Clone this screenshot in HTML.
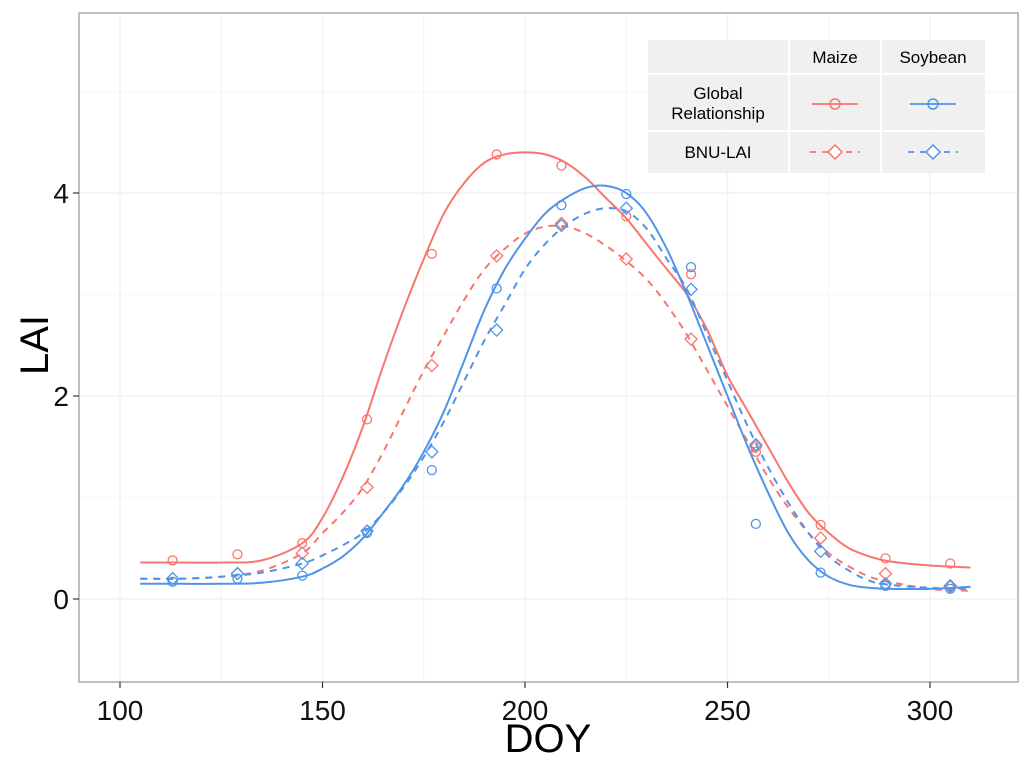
<!DOCTYPE html>
<html><head><meta charset="utf-8"><style>
html,body{margin:0;padding:0;background:#fff;}
svg{display:block;font-family:"Liberation Sans",sans-serif;}
</style></head><body>
<svg id="chart" width="1024" height="764">
<rect x="0" y="0" width="1024" height="764" fill="#fff"/>
<g id="grid"></g>
<g id="series"></g>
<rect x="79" y="13" width="939" height="669" fill="none" stroke="#aaa" stroke-width="1.5"/>
<g id="axes"></g>
<text x="548" y="752" font-size="40" text-anchor="middle" fill="#000">DOY</text>
<text transform="translate(48,345) rotate(-90)" font-size="40" text-anchor="middle" fill="#000">LAI</text>
<g id="legend">
<rect x="648" y="40" width="140" height="33" fill="#f0f0f0"/>
<rect x="790" y="40" width="90" height="33" fill="#f0f0f0"/>
<rect x="882" y="40" width="103" height="33" fill="#f0f0f0"/>
<rect x="648" y="75" width="140" height="55" fill="#f0f0f0"/>
<rect x="790" y="75" width="90" height="55" fill="#f0f0f0"/>
<rect x="882" y="75" width="103" height="55" fill="#f0f0f0"/>
<rect x="648" y="132" width="140" height="41" fill="#f0f0f0"/>
<rect x="790" y="132" width="90" height="41" fill="#f0f0f0"/>
<rect x="882" y="132" width="103" height="41" fill="#f0f0f0"/>
<text x="835" y="63" font-size="17" text-anchor="middle">Maize</text>
<text x="933" y="63" font-size="17" text-anchor="middle">Soybean</text>
<text x="718" y="99" font-size="17" text-anchor="middle">Global</text>
<text x="718" y="119" font-size="17" text-anchor="middle">Relationship</text>
<text x="718" y="158" font-size="17" text-anchor="middle">BNU-LAI</text>
<g><line x1="812" y1="104" x2="858" y2="104" stroke="#F8766D" stroke-width="1.8"/><circle cx="835" cy="104" r="5" fill="none" stroke="#F8766D" stroke-width="1.5"/></g>
<g><line x1="910" y1="104" x2="956" y2="104" stroke="#4F94E8" stroke-width="1.8"/><circle cx="933" cy="104" r="5" fill="none" stroke="#4F94E8" stroke-width="1.5"/></g>
<g><line x1="810" y1="152" x2="860" y2="152" stroke="#F8766D" stroke-width="1.8" stroke-dasharray="6,6"/><path d="M835 145 L842 152 L835 159 L828 152 Z" fill="#fff" stroke="#F8766D" stroke-width="1.5"/></g>
<g><line x1="908" y1="152" x2="958" y2="152" stroke="#4F94E8" stroke-width="1.8" stroke-dasharray="6,6"/><path d="M933 145 L940 152 L933 159 L926 152 Z" fill="#fff" stroke="#4F94E8" stroke-width="1.5"/></g>
</g>
</svg>
<script>
const xTicks=[100,150,200,250,300];
const yTicks=[0,2,4];
const obsDoy=[113,129,145,161,177,193,209,225,241,257,273,289,305];
const maizeGlobalObs=[0.38,0.44,0.55,1.77,3.4,4.38,4.27,3.77,3.2,1.45,0.73,0.4,0.35];
const maizeBnuObs=[0.2,0.25,0.45,1.1,2.3,3.38,3.7,3.35,2.56,1.5,0.6,0.25,0.12];
const soyGlobalObs=[0.17,0.2,0.23,0.65,1.27,3.06,3.88,3.99,3.27,0.74,0.26,0.13,0.1];
const soyBnuObs=[0.2,0.25,0.35,0.67,1.45,2.65,3.68,3.85,3.05,1.52,0.47,0.15,0.13];
const curveDoy=[105,115,125,135,145,150,155,160,165,170,175,180,185,190,195,200,205,210,215,220,225,230,235,240,245,250,255,260,265,270,275,280,285,290,300,310];
const maizeGlobalFit=[0.36,0.36,0.36,0.38,0.55,0.8,1.2,1.7,2.3,2.85,3.35,3.8,4.1,4.3,4.38,4.4,4.38,4.3,4.15,3.95,3.75,3.5,3.25,3.0,2.65,2.2,1.85,1.5,1.15,0.85,0.65,0.5,0.42,0.37,0.33,0.31];
const maizeBnuFit=[0.2,0.2,0.22,0.28,0.45,0.65,0.85,1.1,1.45,1.85,2.25,2.6,2.95,3.25,3.45,3.6,3.67,3.67,3.6,3.48,3.33,3.15,2.9,2.6,2.25,1.9,1.55,1.2,0.9,0.65,0.45,0.32,0.22,0.17,0.1,0.08];
const soyGlobalFit=[0.15,0.15,0.15,0.16,0.22,0.3,0.42,0.6,0.85,1.12,1.45,1.85,2.35,2.85,3.25,3.55,3.8,3.95,4.05,4.07,4.0,3.8,3.45,3.0,2.5,2.0,1.5,1.05,0.65,0.38,0.22,0.14,0.11,0.1,0.1,0.12];
const soyBnuFit=[0.2,0.2,0.22,0.26,0.35,0.43,0.53,0.65,0.85,1.1,1.4,1.75,2.15,2.55,2.9,3.25,3.5,3.68,3.8,3.85,3.82,3.65,3.35,3.05,2.6,2.15,1.7,1.3,0.95,0.65,0.42,0.28,0.18,0.14,0.11,0.1];

const NS="http://www.w3.org/2000/svg";
const X=d=>120+(d-100)*4.05;
const Y=v=>599-v*101.5;
const L=79,R=1018,T=13,B=682;
function mk(tag,attrs,parent){const e=document.createElementNS(NS,tag);for(const k in attrs)e.setAttribute(k,attrs[k]);parent.appendChild(e);return e;}
const grid=document.getElementById('grid'),axes=document.getElementById('axes'),ser=document.getElementById('series');
for(let v=100;v<=300;v+=25){const l=mk('line',{x1:X(v),x2:X(v),y1:T,y2:B,stroke:'#f2f2f2','stroke-width':v%50===0?1.4:0.8},grid);

}
for(let v=0;v<=5;v++){const l=mk('line',{x1:L,x2:R,y1:Y(v),y2:Y(v),stroke:'#f2f2f2','stroke-width':v%2===0?1.4:0.8},grid);

}
xTicks.forEach(t=>{mk('line',{x1:X(t),x2:X(t),y1:B,y2:B+6,stroke:'#333','stroke-width':1.2},axes);
const tx=mk('text',{x:X(t),y:B+38,'font-size':28,'text-anchor':'middle',fill:'#111'},axes);tx.textContent=t;

});
yTicks.forEach(t=>{mk('line',{x1:L-6,x2:L,y1:Y(t),y2:Y(t),stroke:'#333','stroke-width':1.2},axes);
const tx=mk('text',{x:L-10,y:Y(t)+10,'font-size':28,'text-anchor':'end',fill:'#111'},axes);tx.textContent=t;

});
function smoothPath(vals){const p=curveDoy.map((x,i)=>[X(x),Y(vals[i])]);let d='M'+p[0][0].toFixed(1)+' '+p[0][1].toFixed(1);
for(let i=0;i<p.length-1;i++){const p0=p[Math.max(0,i-1)],p1=p[i],p2=p[i+1],p3=p[Math.min(p.length-1,i+2)];
const c1=[p1[0]+(p2[0]-p0[0])/6,p1[1]+(p2[1]-p0[1])/6],c2=[p2[0]-(p3[0]-p1[0])/6,p2[1]-(p3[1]-p1[1])/6];
d+=` C${c1[0].toFixed(1)} ${c1[1].toFixed(1)} ${c2[0].toFixed(1)} ${c2[1].toFixed(1)} ${p2[0].toFixed(1)} ${p2[1].toFixed(1)}`;}return d;}
function curve(vals,color,dash,name){
const p=mk('path',{d:smoothPath(vals),fill:'none',stroke:color,'stroke-width':2,'stroke-dasharray':dash||'none','stroke-linejoin':'round'},ser);

}
function pts(vals,color,diamond,name){obsDoy.forEach((x,i)=>{const cx=X(x),cy=Y(vals[i]);let e;
if(diamond)e=mk('path',{d:`M${cx} ${cy-6} L${cx+6} ${cy} L${cx} ${cy+6} L${cx-6} ${cy} Z`,fill:'none',stroke:color,'stroke-width':1.3},ser);
else e=mk('circle',{cx:cx,cy:cy,r:4.5,fill:'none',stroke:color,'stroke-width':1.3},ser);

});}
const red='#F8766D',blue='#4F94E8';
curve(maizeGlobalFit,red,null,'maize-global-curve');
curve(maizeBnuFit,red,'7,6','maize-bnu-curve');
curve(soyGlobalFit,blue,null,'soybean-global-curve');
curve(soyBnuFit,blue,'7,6','soybean-bnu-curve');
pts(maizeGlobalObs,red,false,'maize-global-point');
pts(maizeBnuObs,red,true,'maize-bnu-point');
pts(soyGlobalObs,blue,false,'soybean-global-point');
pts(soyBnuObs,blue,true,'soybean-bnu-point');
</script>
</body></html>
